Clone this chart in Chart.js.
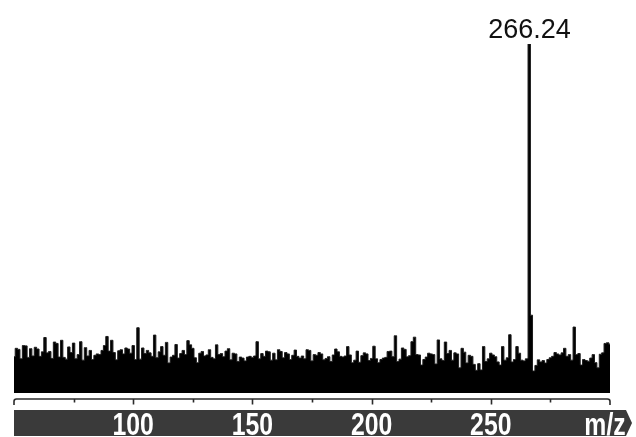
<!DOCTYPE html>
<html>
<head>
<meta charset="utf-8">
<script src="https://cdn.jsdelivr.net/npm/chart.js@4.4.1/dist/chart.umd.min.js"></script>
<style>
  html, body { margin: 0; padding: 0; background: #fff; }
  canvas { display: block; }
</style>
</head>
<body>
<canvas id="spectrum" width="636" height="437"></canvas>
<script>
// m/z grid starts at 50, one point per unit; the base peak sits at 266.24
const firstMz = 50;
const peakMz = 266.24;
const peakLabel = "266.24";
const majorTicks = [100, 150, 200, 250];
const minorTicks = [75, 125, 175, 225, 275];
const axisTitle = "m/z";

// relative intensity (%), m/z 50 ... 300
const intensity = [
  10.4, 12.8, 12.5, 9.8, 13.6, 13.5, 10.2, 12.7, 10.6, 13.1,
  12.6, 10.5, 11.8, 15.9, 11.5, 11.9, 9.9, 14.6, 14.2, 10.3,
  15.1, 10.2, 9.7, 13.2, 11.6, 14.3, 9.8, 11.0, 14.7, 9.4,
  13.0, 10.6, 12.2, 9.6, 10.8, 11.2, 11.0, 12.2, 13.6, 16.2,
  12.0, 15.1, 11.6, 9.5, 12.1, 12.4, 11.2, 12.9, 12.6, 11.4,
  13.6, 9.6, 18.7, 9.7, 12.9, 11.3, 12.2, 11.5, 10.5, 16.6,
  10.1, 11.8, 13.3, 10.8, 14.5, 8.6, 10.3, 10.8, 13.9, 10.0,
  11.3, 12.2, 11.0, 15.0, 13.8, 12.8, 10.1, 8.7, 11.4, 11.9,
  10.6, 10.9, 12.4, 10.2, 9.8, 13.8, 11.0, 11.3, 10.4, 12.0,
  12.7, 9.5, 11.4, 11.2, 9.0, 10.3, 10.0, 9.2, 10.3, 10.5,
  10.2, 10.6, 14.7, 9.8, 11.3, 10.5, 12.0, 11.8, 9.4, 11.4,
  9.5, 12.4, 11.9, 10.1, 11.6, 11.2, 9.6, 10.8, 12.3, 10.5,
  10.0, 10.6, 9.8, 12.4, 12.2, 9.2, 11.0, 10.8, 11.6, 11.2,
  9.5, 9.9, 10.4, 9.0, 10.9, 12.6, 11.8, 10.5, 10.3, 10.6,
  13.3, 10.9, 8.7, 9.4, 12.0, 8.8, 10.7, 11.5, 11.2, 9.3,
  9.9, 13.4, 9.8, 8.7, 9.6, 10.0, 10.2, 11.9, 12.0, 10.4,
  16.4, 9.0, 9.7, 12.9, 12.5, 10.4, 10.7, 14.7, 16.0, 11.0,
  10.9, 8.0, 9.6, 10.3, 11.4, 11.2, 11.0, 8.3, 15.2, 9.8,
  9.3, 14.6, 11.3, 12.2, 9.4, 11.5, 11.2, 7.2, 12.8, 11.7,
  8.6, 10.8, 10.5, 8.2, 6.5, 8.4, 6.6, 13.3, 9.0, 9.8,
  11.4, 10.9, 10.4, 8.9, 8.0, 13.3, 9.4, 10.1, 16.7, 8.9,
  9.6, 13.3, 11.4, 9.4, 9.2, 9.8, 100, 22.3, 6.3, 7.9,
  9.5, 8.9, 9.3, 8.6, 9.6, 10.1, 10.5, 11.6, 11.2, 10.9,
  11.5, 12.8, 10.5, 11.0, 9.4, 18.9, 11.0, 11.3, 8.0, 9.6,
  9.3, 9.1, 10.0, 11.0, 8.7, 7.2, 11.1, 11.5, 14.2, 14.4,
  14.0
];

const points = intensity.map(function (v, i) {
  const mz = firstMz + i;
  return { x: mz === Math.round(peakMz) ? peakMz : mz, y: v };
});

// bold condensed white label: draw regular bold text squeezed horizontally
function narrowText(ctx, text, x, y) {
  ctx.save();
  ctx.translate(x, y);
  ctx.scale(0.8, 1);
  ctx.fillText(text, 0, 0);
  ctx.restore();
}

const axisDecor = {
  id: 'axisDecor',
  afterDraw(chart) {
    const ctx = chart.ctx;
    const xs = chart.scales.x;
    const L = xs.getPixelForValue(xs.min);
    const R = xs.getPixelForValue(xs.max);
    const yLine = 399;

    ctx.save();
    // bracket style axis line
    ctx.strokeStyle = '#2b2b2b';
    ctx.lineWidth = 1.6;
    ctx.beginPath();
    ctx.moveTo(L, 405);
    ctx.lineTo(L, 401.5);
    ctx.quadraticCurveTo(L, yLine, L + 2.5, yLine);
    ctx.lineTo(R - 2.5, yLine);
    ctx.quadraticCurveTo(R, yLine, R, 401.5);
    ctx.lineTo(R, 405);
    ctx.stroke();
    majorTicks.forEach(function (t) {
      const px = Math.round(xs.getPixelForValue(t)) + 0.5;
      ctx.beginPath();
      ctx.moveTo(px, yLine);
      ctx.lineTo(px, 404.5);
      ctx.stroke();
    });
    minorTicks.forEach(function (t) {
      const px = Math.round(xs.getPixelForValue(t)) + 0.5;
      ctx.beginPath();
      ctx.moveTo(px, yLine);
      ctx.lineTo(px, 402.5);
      ctx.stroke();
    });

    // dark band holding the tick labels
    ctx.fillStyle = '#3a3a3a';
    ctx.beginPath();
    ctx.moveTo(L, 410);
    ctx.lineTo(626, 410);
    ctx.lineTo(632, 423);
    ctx.lineTo(626, 436);
    ctx.lineTo(L, 436);
    ctx.closePath();
    ctx.fill();

    ctx.fillStyle = '#fff';
    ctx.font = 'bold 31px "Liberation Sans", Arial, sans-serif';
    ctx.textAlign = 'center';
    ctx.textBaseline = 'alphabetic';
    majorTicks.forEach(function (t) {
      narrowText(ctx, String(t), xs.getPixelForValue(t), 435);
    });
    narrowText(ctx, axisTitle, 605, 435);

    // base peak label
    const meta = chart.getDatasetMeta(0);
    let top = 0;
    intensity.forEach(function (v, i) { if (v > intensity[top]) top = i; });
    const pk = meta.data[top];
    ctx.fillStyle = '#111';
    ctx.font = '27px "Liberation Sans", Arial, sans-serif';
    ctx.fillText(peakLabel, pk.x, 38);
    ctx.restore();
  }
};

new Chart(document.getElementById('spectrum').getContext('2d'), {
  type: 'line',
  data: {
    datasets: [{
      data: points,
      stepped: 'middle',
      fill: 'origin',
      backgroundColor: '#000',
      borderColor: '#1c1c1c',
      borderWidth: 1,
      pointRadius: 0,
    }]
  },
  options: {
    responsive: false,
    animation: false,
    layout: { padding: { left: 14, right: 26, top: 44, bottom: 44 } },
    plugins: {
      legend: { display: false },
      tooltip: { enabled: false }
    },
    scales: {
      x: { type: 'linear', min: 50, max: 300, display: false },
      y: { min: 0, max: 100, display: false }
    }
  },
  plugins: [axisDecor]
});
</script>
</body>
</html>
